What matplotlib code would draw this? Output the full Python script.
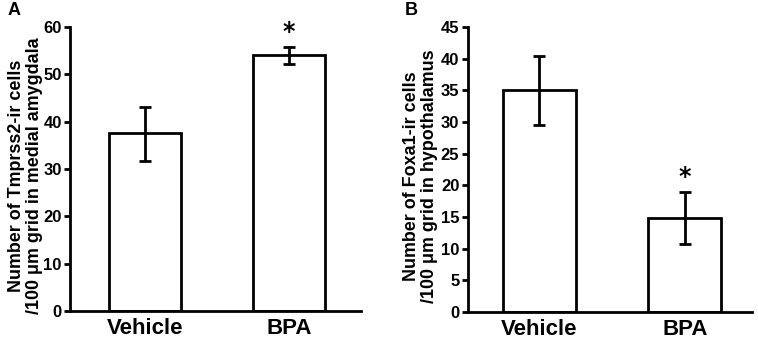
import matplotlib
matplotlib.use("Agg")
import matplotlib.pyplot as plt

categories = ["Vehicle", "BPA"]

a_values = [37.7, 54.1]
a_err_low = [31.7, 52.1]
a_err_high = [43.1, 55.8]
a_yticks = [0, 10, 20, 30, 40, 50, 60]
a_ylabel = "Number of Tmprss2-ir cells\n/100 μm grid in medial amygdala"

b_values = [35.0, 14.9]
b_err_low = [29.5, 10.7]
b_err_high = [40.4, 19.0]
b_yticks = [0, 5, 10, 15, 20, 25, 30, 35, 40, 45]
b_ylabel = "Number of Foxa1-ir cells\n/100 μm grid in hypothalamus"

plt.rcParams['font.family'] = ['Liberation Sans', 'DejaVu Sans']
plt.rcParams['font.weight'] = 'bold'

fig = plt.figure(figsize=(7.58, 3.43), dpi=100)

def panel(rect, vals, lo, hi, yticks, ylabel, letter, star_idx, xlim, label_x):
    ax = fig.add_axes(rect)
    x = list(range(len(categories)))
    yerr = [[v - l for v, l in zip(vals, lo)], [h - v for v, h in zip(vals, hi)]]
    ax.bar(x, vals, width=0.5, color='white', edgecolor='black', linewidth=2, zorder=2)
    ax.errorbar(x, vals, yerr=yerr, fmt='none', ecolor='black', elinewidth=2,
                capsize=4.5, capthick=2, zorder=3)
    ax.set_ylim(yticks[0], yticks[-1])
    ax.set_xlim(*xlim)
    ax.set_yticks(yticks)
    ax.set_xticks(x)
    ax.set_xticklabels(categories, fontsize=16, fontweight='bold')
    ax.tick_params(axis='y', labelsize=12, width=2, length=4, direction='out', pad=2)
    ax.tick_params(axis='x', length=0, pad=5)
    for lab in ax.get_yticklabels():
        lab.set_fontweight('bold')
    ax.spines['top'].set_visible(False)
    ax.spines['right'].set_visible(False)
    ax.spines['left'].set_linewidth(2)
    ax.spines['bottom'].set_linewidth(2)
    ax.set_ylabel(ylabel, fontsize=12.9, fontweight='bold', linespacing=1.1)
    ax.yaxis.set_label_coords(label_x, 0.475)
    ax.text(x[star_idx], hi[star_idx] + 0.01 * (yticks[-1]), "*", ha='center', va='bottom',
            fontsize=17, fontweight='bold', family='DejaVu Sans')
    fig.text(rect[0] - 0.083, 0.995, letter, ha='left', va='top', fontsize=13, fontweight='bold')
    return ax

panel([0.0923, 0.0933, 0.384, 0.828], a_values, a_err_low, a_err_high, a_yticks, a_ylabel, "A", 1, (-0.52, 1.5), -0.093)
panel([0.617, 0.0903, 0.375, 0.831], b_values, b_err_low, b_err_high, b_yticks, b_ylabel, "B", 1, (-0.49, 1.46), -0.105)

fig.savefig("out.png", dpi=100)
